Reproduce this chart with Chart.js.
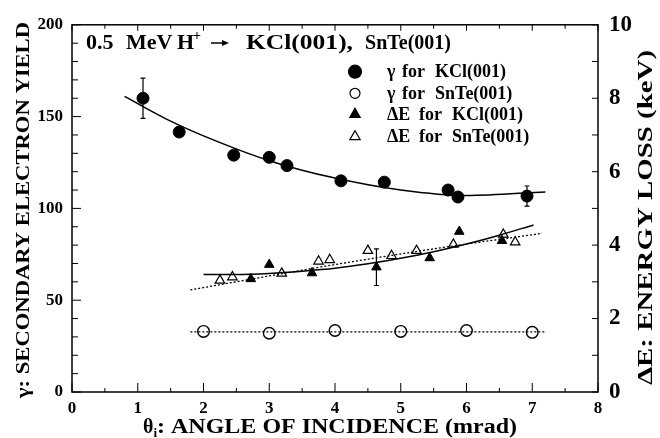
<!DOCTYPE html>
<html>
<head>
<meta charset="utf-8">
<script src="https://cdn.jsdelivr.net/npm/chart.js@4.4.1/dist/chart.umd.min.js"></script>
<style>
  html, body { margin: 0; padding: 0; background: #fff; }
  #wrap { width: 660px; height: 438px; }
</style>
</head>
<body>
<div id="wrap"><canvas id="chart" width="660" height="438"></canvas></div>
<script>
// measured points, angle in mrad
const angleKclGamma = [1.08, 1.63, 2.46, 3.0, 3.27, 4.09, 4.75, 5.72, 5.87, 6.92];
const gammaKcl = [160, 141.6, 129, 127.8, 123.3, 115, 114.3, 110, 106.2, 106.7];
const gammaKclErr = [11, 0, 0, 0, 0, 0, 0, 0, 0, 5.5];

const angleSnTeGamma = [2, 3, 4, 5, 6, 7];
const gammaSnTe = [33, 32, 33.5, 33, 33.5, 32.5];

// energy loss in keV (right axis)
const angleKclLoss = [2.72, 3.0, 3.65, 4.63, 5.44, 5.89, 6.54];
const lossKcl = [3.08, 3.47, 3.24, 3.40, 3.65, 4.37, 4.12];
const lossKclErr = [0, 0, 0, 0.5, 0, 0, 0];

const angleSnTeLoss = [2.25, 2.44, 3.19, 3.75, 3.92, 4.50, 4.86, 5.24, 5.80, 6.56, 6.74];
const lossSnTe = [3.04, 3.13, 3.23, 3.56, 3.60, 3.85, 3.71, 3.85, 4.02, 4.29, 4.08];

// fitted curves
const fitGammaKclX = [0.8, 1.5, 2, 3, 4, 5, 6, 7.2];
const fitGammaKclY = [161, 147.5, 139.5, 126, 116.5, 110, 107, 109];
const fitGammaSnTeX = [1.8, 7.2];
const fitGammaSnTeY = [32.8, 32.8];
const fitLossKclX = [2.0, 2.5, 3.0, 3.5, 4.0, 4.5, 5.0, 5.5, 6.0, 6.5, 7.02];
const fitLossKclY = [3.2, 3.2, 3.23, 3.29, 3.37, 3.49, 3.64, 3.82, 4.03, 4.27, 4.55];
const fitLossSnTeX = [1.8, 3, 4, 5, 6, 7.15];
const fitLossSnTeY = [2.78, 3.16, 3.47, 3.76, 4.03, 4.32];

const xTicks = [0, 1, 2, 3, 4, 5, 6, 7, 8];
const yTicks = [0, 50, 100, 150, 200];
const y2Ticks = [0, 2, 4, 6, 8, 10];

const SERIF = "'Liberation Serif', 'Times New Roman', serif";
const pts = (xs, ys) => xs.map((v, i) => ({ x: v, y: ys[i] }));

// text squeezed/stretched to a given width
function fitText(ctx, text, x, y, w) {
  const m = ctx.measureText(text).width;
  ctx.save();
  ctx.translate(x, y);
  ctx.scale(w / m, 1);
  ctx.fillText(text, 0, 0);
  ctx.restore();
}

function marker(ctx, type, x, y, r, filled) {
  ctx.beginPath();
  if (type === 'circle') {
    ctx.arc(x, y, r, 0, Math.PI * 2);
  } else {
    ctx.moveTo(x, y - r);
    ctx.lineTo(x + r * 0.866, y + r * 0.5);
    ctx.lineTo(x - r * 0.866, y + r * 0.5);
    ctx.closePath();
  }
  if (filled) ctx.fill();
  ctx.stroke();
}

const framePlugin = {
  id: 'frame',
  afterDatasetsDraw(chart) {
    const { ctx, scales } = chart;
    ctx.save();
    ctx.strokeStyle = '#000';
    ctx.lineWidth = 1.2;
    // error bars
    const bars = [
      [angleKclGamma, gammaKcl, gammaKclErr, scales.y],
      [angleKclLoss, lossKcl, lossKclErr, scales.y2]
    ];
    bars.forEach(([xs, ys, es, sc]) => {
      xs.forEach((v, i) => {
        if (!es[i]) return;
        const px = scales.x.getPixelForValue(v);
        const top = sc.getPixelForValue(ys[i] + es[i]);
        const bot = sc.getPixelForValue(ys[i] - es[i]);
        ctx.beginPath();
        ctx.moveTo(px, top); ctx.lineTo(px, bot);
        ctx.moveTo(px - 2.5, top); ctx.lineTo(px + 2.5, top);
        ctx.moveTo(px - 2.5, bot); ctx.lineTo(px + 2.5, bot);
        ctx.stroke();
      });
    });
    ctx.restore();
  },
  afterDraw(chart) {
    const { ctx, chartArea: a, scales: { x, y, y2 } } = chart;
    ctx.save();
    ctx.strokeStyle = '#000';
    ctx.fillStyle = '#000';
    ctx.lineWidth = 1.5;
    ctx.strokeRect(a.left, a.top, a.right - a.left, a.bottom - a.top);
    ctx.lineWidth = 1;
    const line = (x1, y1, x2, y2_) => { ctx.beginPath(); ctx.moveTo(x1, y1); ctx.lineTo(x2, y2_); ctx.stroke(); };
    for (let i = 0; i <= 16; i++) {
      const px = x.getPixelForValue(i / 2);
      const major = i % 2 === 0;
      line(px, a.bottom, px, a.bottom - (major ? 9 : 4));
      line(px, a.top, px, a.top + (major ? 6 : 4));
    }
    for (let v = 0; v <= 200; v += 10) {
      const py = y.getPixelForValue(v);
      line(a.left, py, a.left + (v % 50 === 0 ? 9 : 6), py);
    }
    for (let v = 0; v <= 10; v++) {
      const py = y2.getPixelForValue(v);
      line(a.right, py, a.right - 6, py);
    }

    // heading
    ctx.textBaseline = 'alphabetic';
    ctx.textAlign = 'left';
    ctx.font = 'bold 22px ' + SERIF;
    ctx.fillText('0.5', 86, 49);
    ctx.fillText('MeV', 126, 49);
    ctx.fillText('H', 177, 49);
    ctx.font = 'bold 14px ' + SERIF;
    ctx.fillText('+', 193, 40);
    ctx.lineWidth = 1.5;
    line(211, 43, 224, 43);
    ctx.beginPath();
    ctx.moveTo(229, 43); ctx.lineTo(222, 40); ctx.lineTo(222, 46); ctx.closePath(); ctx.fill();
    ctx.font = 'bold 22px ' + SERIF;
    fitText(ctx, 'KCl(001),', 246, 49, 107);
    fitText(ctx, 'SnTe(001)', 365, 49, 86);

    // legend
    const rows = [71.7, 93.3, 114.3, 136.7];
    const legend = [
      ['circle', true, '\u03b3', 402, 'KCl(001)', 435],
      ['circle', false, '\u03b3', 402, 'SnTe(001)', 435],
      ['triangle', true, '\u0394E', 419, 'KCl(001)', 452],
      ['triangle', false, '\u0394E', 419, 'SnTe(001)', 452]
    ];
    legend.forEach((row, i) => {
      const cy = rows[i];
      ctx.lineWidth = 1.2;
      const r = row[0] === 'circle' ? (row[1] ? 6.5 : 5) : 6;
      marker(ctx, row[0], 355, cy, r, row[1]);
      ctx.font = 'bold 18px ' + SERIF;
      ctx.fillText(row[2], 387, cy + 5.7);
      ctx.fillText('for', row[3], cy + 5.7);
      ctx.fillText(row[4], row[5], cy + 5.7);
    });

    // axis titles
    ctx.font = 'bold 20px ' + SERIF;
    const th = ctx.measureText('\u03b8').width;
    ctx.fillText('\u03b8', 143, 433);
    ctx.font = 'bold 13px ' + SERIF;
    ctx.fillText('i', 143 + th, 437);
    const iw = ctx.measureText('i').width;
    ctx.font = 'bold 20px ' + SERIF;
    const sx = 143 + th + iw;
    fitText(ctx, ': ANGLE OF INCIDENCE (mrad)', sx, 433, 517 - sx);

    ctx.save();
    ctx.translate(29, 398);
    ctx.rotate(-Math.PI / 2);
    ctx.font = 'bold 19px ' + SERIF;
    fitText(ctx, '\u03b3: SECONDARY ELECTRON YIELD', 0, 0, 376);
    ctx.restore();

    ctx.save();
    ctx.translate(652, 385);
    ctx.rotate(-Math.PI / 2);
    ctx.font = 'bold 20px ' + SERIF;
    fitText(ctx, '\u0394E: ENERGY LOSS (keV)', 0, 0, 335);
    ctx.restore();

    ctx.restore();
  }
};

const fitLine = (data, axis, dash) => ({
  data: data, yAxisID: axis, showLine: true, pointRadius: 0,
  borderColor: '#000', borderWidth: dash ? 1.3 : 1.5, borderDash: dash ? [2, 2] : [],
  tension: 0.4, cubicInterpolationMode: 'monotone', fill: false
});

new Chart(document.getElementById('chart'), {
  type: 'scatter',
  data: {
    datasets: [
      fitLine(pts(fitGammaKclX, fitGammaKclY), 'y', false),
      fitLine(pts(fitGammaSnTeX, fitGammaSnTeY), 'y', true),
      fitLine(pts(fitLossKclX, fitLossKclY), 'y2', false),
      fitLine(pts(fitLossSnTeX, fitLossSnTeY), 'y2', true),
      { label: 'γ for KCl(001)', data: pts(angleKclGamma, gammaKcl), yAxisID: 'y',
        pointStyle: 'circle', pointRadius: 6, backgroundColor: '#000', borderColor: '#000', borderWidth: 1 },
      { label: 'γ for SnTe(001)', data: pts(angleSnTeGamma, gammaSnTe), yAxisID: 'y',
        pointStyle: 'circle', pointRadius: 5.8, backgroundColor: '#fff', borderColor: '#000', borderWidth: 1.4 },
      { label: 'ΔE for KCl(001)', data: pts(angleKclLoss, lossKcl), yAxisID: 'y2',
        pointStyle: 'triangle', pointRadius: 5.5, backgroundColor: '#000', borderColor: '#000', borderWidth: 1 },
      { label: 'ΔE for SnTe(001)', data: pts(angleSnTeLoss, lossSnTe), yAxisID: 'y2',
        pointStyle: 'triangle', pointRadius: 5.5, backgroundColor: '#fff', borderColor: '#000', borderWidth: 1.2 }
    ]
  },
  options: {
    responsive: false,
    animation: false,
    devicePixelRatio: 1,
    layout: { padding: { top: 21, left: 0, right: 0, bottom: 0 } },
    plugins: { legend: { display: false }, tooltip: { enabled: false } },
    scales: {
      x: {
        type: 'linear', min: 0, max: 8,
        grid: { display: false, drawTicks: false }, border: { display: false },
        afterBuildTicks: s => { s.ticks = xTicks.map(v => ({ value: v })); },
        afterFit: s => { s.height = 46; },
        ticks: { color: '#000', padding: 6, font: { family: SERIF, weight: 'bold', size: 17 } }
      },
      y: {
        type: 'linear', position: 'left', min: 0, max: 200,
        grid: { display: false, drawTicks: false }, border: { display: false },
        afterBuildTicks: s => { s.ticks = yTicks.map(v => ({ value: v })); },
        afterFit: s => { s.width = 72; },
        ticks: { color: '#000', padding: 9, font: { family: SERIF, weight: 'bold', size: 17 } }
      },
      y2: {
        type: 'linear', position: 'right', min: 0, max: 10,
        grid: { display: false, drawTicks: false }, border: { display: false },
        afterBuildTicks: s => { s.ticks = y2Ticks.map(v => ({ value: v })); },
        afterFit: s => { s.width = 62; },
        ticks: { color: '#000', padding: 11, font: { family: SERIF, weight: 'bold', size: 23 } }
      }
    }
  },
  plugins: [framePlugin]
});
</script>
</body>
</html>
